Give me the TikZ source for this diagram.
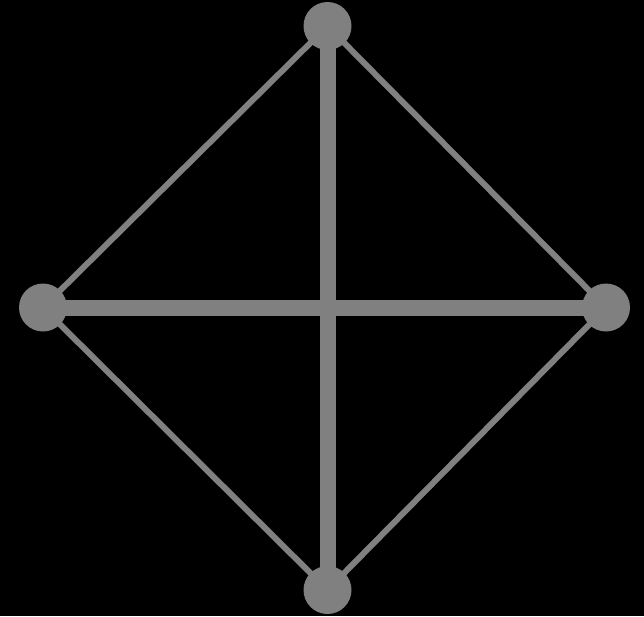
\documentclass[tikz,border=0pt]{standalone}
\definecolor{edgegray}{HTML}{808080}
\tikzset{
  vert/.style={circle, fill=edgegray, minimum size=48pt, inner sep=0pt},
  thinedge/.style={draw=edgegray, line width=6pt},
  thickedge/.style={draw=edgegray, line width=16pt}
}
\begin{document}
\begin{tikzpicture}[x=1pt,y=-1pt]
\fill[black] (0,0) rectangle (644,616);
\useasboundingbox (0,0) rectangle (644,616);
\coordinate (T) at (327.5,26);
\coordinate (L) at (43,307.5);
\coordinate (R) at (606,307.5);
\coordinate (B) at (327.5,590);
\draw[thinedge] (T) -- (L);
\draw[thinedge] (T) -- (R);
\draw[thinedge] (B) -- (L);
\draw[thinedge] (B) -- (R);
\draw[thickedge] (T) -- (B);
\draw[thickedge] (L) -- (R);
\node[vert] (t) at (T) {};
\node[vert] (l) at (L) {};
\node[vert] (r) at (R) {};
\node[vert] (b) at (B) {};
\end{tikzpicture}
\end{document}
